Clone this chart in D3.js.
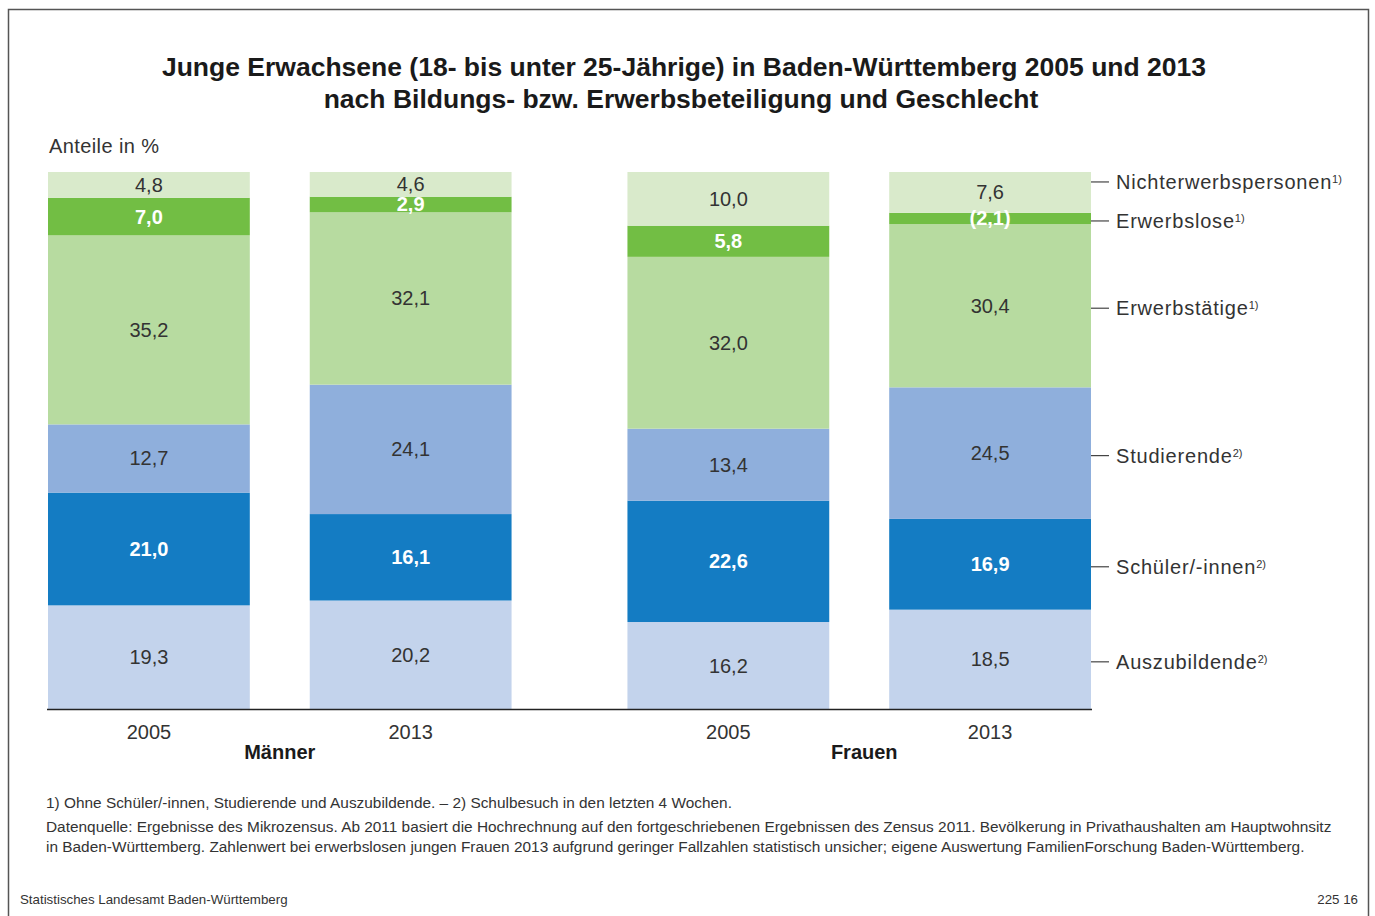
<!DOCTYPE html>
<html>
<head>
<meta charset="utf-8">
<script src="https://cdn.jsdelivr.net/npm/d3@7"></script>
<style>
  body { margin: 0; background: #fff; }
  svg { display: block; font-family: "Liberation Sans", Arial, sans-serif; }
</style>
</head>
<body>
<script>
const WIDTH = 1375;
const HEIGHT = 916;

// data
const groups = ["Männer", "Frauen"];
const years = ["2005", "2013"];
const categories = ["Auszubildende", "Schüler/-innen", "Studierende", "Erwerbstätige", "Erwerbslose", "Nichterwerbspersonen"];
const footnoteMark = ["2)", "2)", "2)", "1)", "1)", "1)"];
const colors = ["#c3d3ec", "#147cc3", "#8fafdc", "#b7dba0", "#72be44", "#d9eacb"];
const boldLabel = [false, true, false, false, true, false];

// values per bar, order as categories (bottom to top)
const maenner2005 = [19.3, 21.0, 12.7, 35.2, 7.0, 4.8];
const maenner2013 = [20.2, 16.1, 24.1, 32.1, 2.9, 4.6];
const frauen2005 = [16.2, 22.6, 13.4, 32.0, 5.8, 10.0];
const frauen2013 = [18.5, 16.9, 24.5, 30.4, 2.1, 7.6];
const uncertain = ["Frauen 2013 Erwerbslose"];

const bars = [
  { group: "Männer", year: "2005", values: maenner2005 },
  { group: "Männer", year: "2013", values: maenner2013 },
  { group: "Frauen", year: "2005", values: frauen2005 },
  { group: "Frauen", year: "2013", values: frauen2013 }
];

const svg = d3.select("body").append("svg")
  .attr("width", WIDTH)
  .attr("height", HEIGHT);

// frame
svg.append("path")
  .attr("d", `M8.5,${HEIGHT} V9.5 H1368.5 V${HEIGHT}`)
  .attr("fill", "none")
  .attr("stroke", "#555")
  .attr("stroke-width", 1.5);

// title
const title = svg.append("text")
  .attr("text-anchor", "middle")
  .attr("font-weight", "bold")
  .attr("font-size", 26.5)
  .attr("fill", "#1a1a1a");
title.append("tspan").attr("x", 684).attr("y", 76)
  .text("Junge Erwachsene (18- bis unter 25-Jährige) in Baden-Württemberg 2005 und 2013");
title.append("tspan").attr("x", 681).attr("y", 108)
  .text("nach Bildungs- bzw. Erwerbsbeteiligung und Geschlecht");

svg.append("text")
  .attr("x", 49).attr("y", 153)
  .attr("font-size", 20)
  .attr("letter-spacing", 0.4)
  .attr("fill", "#333")
  .text("Anteile in %");

// scales
const x0 = d3.scaleBand().domain(groups).range([48, 1091]).paddingInner(0.2);
const x1 = d3.scaleBand().domain(years).range([0, x0.bandwidth()]).paddingInner(60 / 262);
const y = d3.scaleLinear().domain([0, 100]).range([709, 172]);

const fmt = v => d3.format(".1f")(v).replace(".", ",");

bars.forEach(b => {
  const bx = x0(b.group) + x1(b.year);
  const stack = d3.cumsum(b.values);
  const g = svg.append("g");
  b.values.forEach((v, i) => {
    const y0 = stack[i] - v;
    const y1 = stack[i];
    g.append("rect")
      .attr("x", bx)
      .attr("width", x1.bandwidth())
      .attr("y", y(y1))
      .attr("height", y(y0) - y(y1))
      .attr("fill", colors[i]);
  });
  b.values.forEach((v, i) => {
    const y0 = stack[i] - v;
    const y1 = stack[i];
    let label = fmt(v);
    if (uncertain.includes(`${b.group} ${b.year} ${categories[i]}`)) label = `(${label})`;
    g.append("text")
      .attr("x", bx + x1.bandwidth() / 2)
      .attr("y", (y(y0) + y(y1)) / 2)
      .attr("dy", "0.35em")
      .attr("text-anchor", "middle")
      .attr("font-size", 20)
      .attr("font-weight", boldLabel[i] ? "bold" : "normal")
      .attr("fill", boldLabel[i] ? "#fff" : "#333")
      .text(label);
  });
});

// baseline
svg.append("line")
  .attr("x1", 47).attr("x2", 1092)
  .attr("y1", y(0) + 0.5).attr("y2", y(0) + 0.5)
  .attr("stroke", "#222")
  .attr("stroke-width", 1.5);

// year labels
bars.forEach(b => {
  svg.append("text")
    .attr("x", x0(b.group) + x1(b.year) + x1.bandwidth() / 2)
    .attr("y", 739)
    .attr("text-anchor", "middle")
    .attr("font-size", 20)
    .attr("fill", "#333")
    .text(b.year);
});
groups.forEach(gr => {
  svg.append("text")
    .attr("x", x0(gr) + x0.bandwidth() / 2 + (gr === "Frauen" ? 5 : 0))
    .attr("y", 759)
    .attr("text-anchor", "middle")
    .attr("font-size", 20)
    .attr("font-weight", "bold")
    .attr("fill", "#1a1a1a")
    .text(gr);
});

// legend, aligned to the last bar
const last = bars[bars.length - 1];
const lastStack = d3.cumsum(last.values);
let legendY = last.values.map((v, i) => y(lastStack[i] - v / 2));
for (let i = legendY.length - 1; i > 0; i--) {
  if (legendY[i - 1] - legendY[i] < 39) legendY[i] = legendY[i - 1] - 39;
}
const legX = x0(last.group) + x1(last.year) + x1.bandwidth();
categories.forEach((c, i) => {
  const ly = legendY[i] + 2.5;
  svg.append("line")
    .attr("x1", legX).attr("x2", legX + 18)
    .attr("y1", ly).attr("y2", ly)
    .attr("stroke", "#444").attr("stroke-width", 1.2);
  const t = svg.append("text")
    .attr("x", legX + 25).attr("y", ly)
    .attr("dy", "0.35em")
    .attr("font-size", 20)
    .attr("letter-spacing", 0.8)
    .attr("fill", "#333")
    .text(c);
  t.append("tspan")
    .attr("dy", "-0.55em")
    .attr("font-size", 11)
    .attr("letter-spacing", 0)
    .text(footnoteMark[i]);
});

// footnotes
const notes = [
  { y: 808, text: "1) Ohne Schüler/-innen, Studierende und Auszubildende.  – 2) Schulbesuch in den letzten 4 Wochen." },
  { y: 832, text: "Datenquelle: Ergebnisse des Mikrozensus. Ab 2011 basiert die Hochrechnung auf den fortgeschriebenen Ergebnissen des Zensus 2011. Bevölkerung in Privathaushalten am Hauptwohnsitz" },
  { y: 852, text: "in Baden-Württemberg. Zahlenwert bei erwerbslosen jungen Frauen 2013 aufgrund geringer Fallzahlen statistisch unsicher; eigene Auswertung FamilienForschung Baden-Württemberg." }
];
notes.forEach(n => {
  svg.append("text")
    .attr("x", 46).attr("y", n.y)
    .attr("font-size", 15.4)
    .attr("fill", "#333")
    .text(n.text);
});

svg.append("text")
  .attr("x", 20).attr("y", 904)
  .attr("font-size", 13.3)
  .attr("fill", "#333")
  .text("Statistisches Landesamt Baden-Württemberg");
svg.append("text")
  .attr("x", 1358).attr("y", 904)
  .attr("text-anchor", "end")
  .attr("font-size", 13.3)
  .attr("fill", "#333")
  .text("225 16");
</script>
</body>
</html>
